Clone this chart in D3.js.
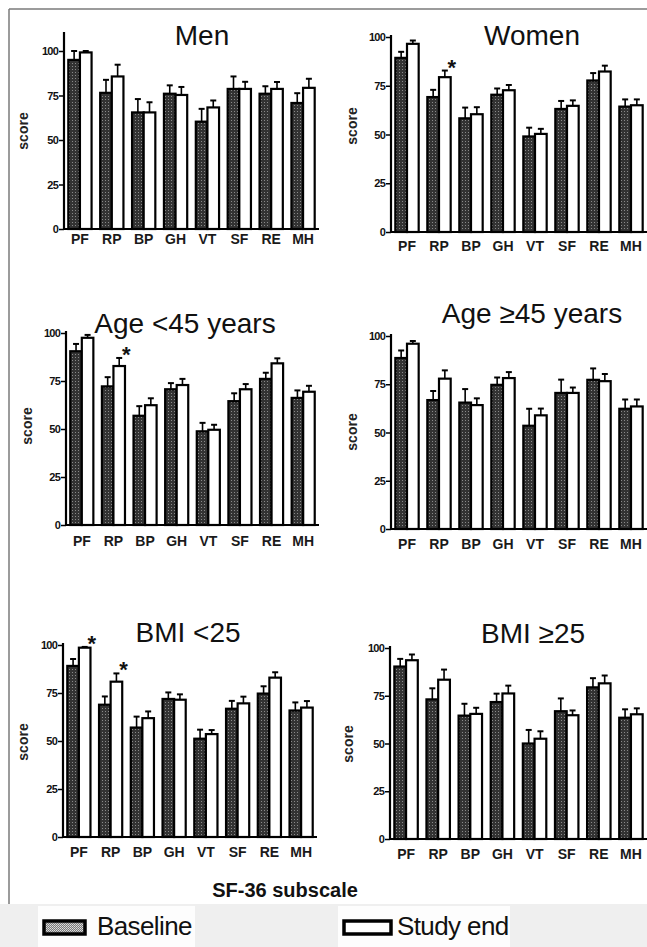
<!DOCTYPE html>
<html>
<head>
<meta charset="utf-8">
<script src="https://cdn.jsdelivr.net/npm/d3@7"></script>
<style>
  body { margin: 0; background: #fff; }
  svg { display: block; font-family: "Liberation Sans", Arial, Helvetica, sans-serif; }
</style>
</head>
<body>
<div id="chart"></div>
<script>
// SF-36 subscales on the x axis
const subscales = ["PF", "RP", "BP", "GH", "VT", "SF", "RE", "MH"];
const yTicks = [0, 25, 50, 75, 100];

// mean scores and (upper) error bars
const menBaseline = [95, 76.5, 65.5, 76, 60.3, 78.7, 76, 70.8];
const menBaselineErr = [5, 7.3, 7.5, 4.7, 7.2, 7, 4.2, 5.5];
const menStudyEnd = [99.2, 85.7, 65.5, 75.3, 68.3, 78.7, 78.7, 79.3];
const menStudyEndErr = [0.8, 6.6, 5.7, 4.5, 3.9, 4, 3.9, 5.1];

const womenBaseline = [89.3, 69.2, 58.3, 70.4, 49, 63.1, 77.7, 64.3];
const womenBaselineErr = [3.1, 3.7, 5.5, 3.2, 4.5, 4.1, 3.8, 3.7];
const womenStudyEnd = [96.5, 79.4, 60.4, 72.7, 50.3, 64.7, 82.3, 65];
const womenStudyEndErr = [1.7, 3.4, 3.6, 2.7, 2.6, 2.8, 3, 3];

const youngBaseline = [90.5, 72.2, 56.9, 70.7, 48.8, 64.5, 76.1, 66.2];
const youngBaselineErr = [3.8, 4.8, 5, 3.2, 4.4, 4.1, 3.2, 3.9];
const youngStudyEnd = [97.5, 82.8, 62.4, 72.9, 49.6, 70.7, 84.2, 69.4];
const youngStudyEndErr = [1.5, 4.2, 3.6, 3.2, 2.6, 2.7, 2.6, 3.1];

const olderBaseline = [88.6, 66.8, 65.5, 74.7, 53.5, 70.5, 77.3, 62.3];
const olderBaselineErr = [3.9, 4.7, 7, 3.8, 8.8, 6.9, 5.9, 4.8];
const olderStudyEnd = [96, 77.9, 64.2, 78.2, 58.9, 70.5, 76.6, 63.5];
const olderStudyEndErr = [1.4, 4.3, 3.5, 3.1, 3.5, 2.8, 3.7, 3.6];

const leanBaseline = [89.1, 68.9, 57, 71.9, 51.2, 66.8, 74.7, 65.9];
const leanBaselineErr = [3.6, 4.3, 5.7, 3.4, 4.7, 4.1, 3.8, 4.2];
const leanStudyEnd = [98.6, 80.9, 61.9, 71.5, 53.6, 69.6, 83, 67.4];
const leanStudyEndErr = [0.4, 4.3, 3.5, 2.8, 2.1, 3.5, 2.8, 3.4];

const heavyBaseline = [90.3, 73.1, 64.6, 71.7, 50, 66.9, 79.4, 63.5];
const heavyBaselineErr = [4, 5.8, 6.2, 4.4, 7.1, 6.7, 4.8, 4.4];
const heavyStudyEnd = [93.6, 83.4, 65.5, 76.2, 52.5, 64.8, 81.5, 65.3];
const heavyStudyEndErr = [3, 5.3, 3.2, 4.1, 3.9, 2.5, 4.1, 3.1];

// study end vs baseline, p < 0.05
const significant = [["Women", "RP"], ["Age <45 years", "RP"], ["BMI <25", "PF"], ["BMI <25", "RP"]];

// where each panel sits on the page
const panels = [
  {title: "Men", b: menBaseline, be: menBaselineErr, s: menStudyEnd, se: menStudyEndErr,
   x0: 64, x1: 319, y0: 229, y100: 51, top: 32, tx: 202, ty: 45, lx: 23, ly: 131, ld: 15},
  {title: "Women", b: womenBaseline, be: womenBaselineErr, s: womenStudyEnd, se: womenStudyEndErr,
   x0: 391, x1: 647, y0: 232, y100: 37, top: 35, tx: 532, ty: 45, lx: 352, ly: 126, ld: 19},
  {title: "Age <45 years", b: youngBaseline, be: youngBaselineErr, s: youngStudyEnd, se: youngStudyEndErr,
   x0: 66, x1: 319, y0: 525, y100: 333, top: 331, tx: 185, ty: 333, lx: 27, ly: 426, ld: 21},
  {title: "Age ≥45 years", b: olderBaseline, be: olderBaselineErr, s: olderStudyEnd, se: olderStudyEndErr,
   x0: 391, x1: 647, y0: 529, y100: 336, top: 334, tx: 532, ty: 323, lx: 352, ly: 432, ld: 20},
  {title: "BMI <25", b: leanBaseline, be: leanBaselineErr, s: leanStudyEnd, se: leanStudyEndErr,
   x0: 63, x1: 317, y0: 837, y100: 645, top: 643, tx: 188, ty: 642, lx: 23, ly: 742, ld: 20},
  {title: "BMI ≥25", b: heavyBaseline, be: heavyBaselineErr, s: heavyStudyEnd, se: heavyStudyEndErr,
   x0: 390, x1: 647, y0: 839, y100: 648, top: 646, tx: 533, ty: 643, lx: 348, ly: 744, ld: 20}
];

const W = 647, H = 947;
const svg = d3.select("#chart").append("svg").attr("width", W).attr("height", H);

// dotted dark fill of the baseline bars
const defs = svg.append("defs");
const pat = defs.append("pattern").attr("id", "dots")
  .attr("width", 3).attr("height", 3).attr("patternUnits", "userSpaceOnUse");
pat.append("rect").attr("width", 3).attr("height", 3).attr("fill", "#333");
pat.append("rect").attr("width", 1).attr("height", 1).attr("fill", "#8a8a8a");
const pat2 = defs.append("pattern").attr("id", "dotsLight")
  .attr("width", 2).attr("height", 2).attr("patternUnits", "userSpaceOnUse");
pat2.append("rect").attr("width", 2).attr("height", 2).attr("fill", "#7a7a7a");
pat2.append("rect").attr("width", 1).attr("height", 1).attr("fill", "#e0e0e0");
pat2.append("rect").attr("x", 1).attr("y", 1).attr("width", 1).attr("height", 1).attr("fill", "#c8c8c8");

// frame
svg.append("line").attr("x1", 9).attr("x2", W).attr("y1", 9).attr("y2", 9)
  .attr("stroke", "#7a7a7a").attr("stroke-width", 1.5);
svg.append("line").attr("x1", 9).attr("x2", 9).attr("y1", 9).attr("y2", 904)
  .attr("stroke", "#7a7a7a").attr("stroke-width", 1.5);

panels.forEach(p => {
  const g = svg.append("g");
  const y = d3.scaleLinear().domain([0, 100]).range([p.y0, p.y100]);
  const x = d3.scaleBand().domain(subscales).range([p.x0, p.x1])
    .paddingInner(0.27).paddingOuter(0.135);
  const half = x.bandwidth() / 2;

  const rows = subscales.map((k, i) => ({k, b: p.b[i], be: p.be[i], s: p.s[i], se: p.se[i]}));

  // error bars (upper only)
  const err = [];
  rows.forEach(r => {
    err.push({cx: x(r.k) + half / 2, v: r.b, e: r.be});
    err.push({cx: x(r.k) + half * 1.5, v: r.s, e: r.se});
  });
  g.selectAll(".ev").data(err).join("line")
    .attr("x1", d => d.cx).attr("x2", d => d.cx)
    .attr("y1", d => y(d.v)).attr("y2", d => y(d.v + d.e))
    .attr("stroke", "#000").attr("stroke-width", 1.6);
  g.selectAll(".ec").data(err).join("line")
    .attr("x1", d => d.cx - 3).attr("x2", d => d.cx + 3)
    .attr("y1", d => y(d.v + d.e)).attr("y2", d => y(d.v + d.e))
    .attr("stroke", "#000").attr("stroke-width", 2);

  g.selectAll(".bb").data(rows).join("rect")
    .attr("x", d => x(d.k)).attr("width", half)
    .attr("y", d => y(d.b)).attr("height", d => y(0) - y(d.b))
    .attr("fill", "url(#dots)").attr("stroke", "#000").attr("stroke-width", 2.2);
  g.selectAll(".sb").data(rows).join("rect")
    .attr("x", d => x(d.k) + half).attr("width", half)
    .attr("y", d => y(d.s)).attr("height", d => y(0) - y(d.s))
    .attr("fill", "#fff").attr("stroke", "#000").attr("stroke-width", 2.2);

  // y axis
  const ya = g.append("g").attr("transform", `translate(${p.x0},0)`)
    .call(d3.axisLeft(y).tickValues(yTicks).tickSize(5).tickPadding(1));
  ya.select(".domain").remove();
  ya.selectAll(".tick line").attr("stroke", "#000").attr("stroke-width", 1.5);
  ya.selectAll(".tick text").attr("font-size", 11).attr("font-weight", "bold")
    .attr("letter-spacing", -0.8).attr("fill", "#111").attr("font-family", "inherit");
  g.append("line").attr("x1", p.x0).attr("x2", p.x0).attr("y1", p.y0 + 1).attr("y2", p.top)
    .attr("stroke", "#000").attr("stroke-width", 2.2);

  // x axis
  const xa = g.append("g").attr("transform", `translate(0,${p.y0})`)
    .call(d3.axisBottom(x).tickSize(0).tickPadding(0));
  xa.select(".domain").remove();
  xa.selectAll(".tick text").attr("dy", p.ld).attr("y", 0)
    .attr("font-size", 14).attr("font-weight", "bold").attr("fill", "#1a1a1a")
    .attr("font-family", "inherit");
  g.append("line").attr("x1", p.x0 - 1).attr("x2", p.x1).attr("y1", p.y0).attr("y2", p.y0)
    .attr("stroke", "#000").attr("stroke-width", 2.2);

  g.append("text").attr("x", p.tx).attr("y", p.ty).attr("text-anchor", "middle")
    .attr("font-size", 28).attr("fill", "#111").text(p.title);

  g.append("text").attr("transform", `translate(${p.lx},${p.ly}) rotate(-90)`)
    .attr("text-anchor", "middle").attr("dy", "0.35em")
    .attr("font-size", 14).attr("font-weight", "bold").attr("fill", "#222").text("score");

  // significance stars
  significant.filter(s => s[0] === p.title).forEach(s => {
    const i = subscales.indexOf(s[1]);
    g.append("text")
      .attr("x", x(s[1]) + half * 1.5 + 7)
      .attr("y", y(p.s[i] + p.se[i]) - 8 + 12)
      .attr("text-anchor", "middle").attr("font-size", 22).attr("font-weight", "bold")
      .attr("fill", "#111").text("*");
  });
});

// shared x title
svg.append("text").attr("x", 285).attr("y", 897).attr("text-anchor", "middle")
  .attr("font-size", 20).attr("font-weight", "bold").attr("fill", "#111").text("SF-36 subscale");

// legend band
svg.append("rect").attr("x", 0).attr("y", 904).attr("width", W).attr("height", H - 904).attr("fill", "#efefef");
svg.append("rect").attr("x", 38).attr("y", 906).attr("width", 157).attr("height", H - 906).attr("fill", "#fdfdfd");
svg.append("rect").attr("x", 338).attr("y", 906).attr("width", 172).attr("height", H - 906).attr("fill", "#fdfdfd");

const legend = [
  {label: "Baseline", fill: "url(#dotsLight)", x: 44, w: 41, tx: 97},
  {label: "Study end", fill: "#fff", x: 344, w: 47, tx: 397}
];
legend.forEach(l => {
  svg.append("rect").attr("x", l.x).attr("y", 921).attr("width", l.w).attr("height", 13)
    .attr("fill", l.fill).attr("stroke", "#000").attr("stroke-width", 3.5);
  svg.append("text").attr("x", l.tx).attr("y", 935).attr("font-size", 26)
    .attr("letter-spacing", -0.6).attr("fill", "#111").text(l.label);
});
</script>
</body>
</html>
